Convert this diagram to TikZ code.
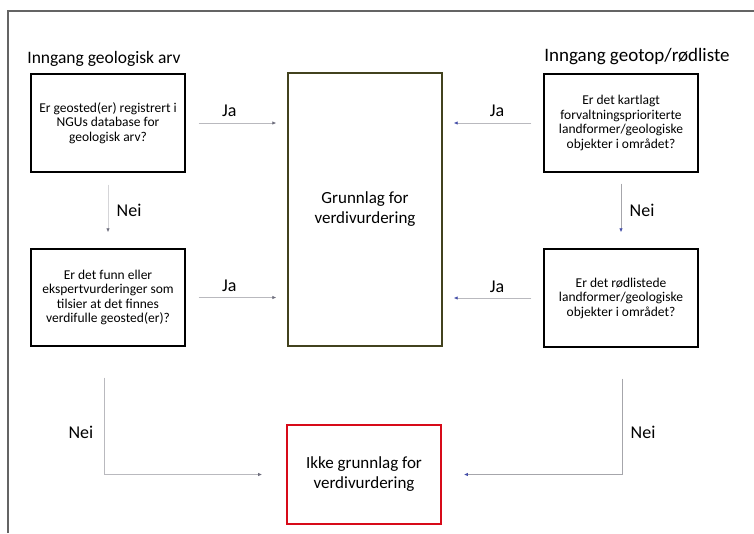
\documentclass[tikz,border=0pt]{standalone}
\usepackage{fontspec}
\setmainfont{Carlito}
\usetikzlibrary{shapes,arrows.meta,positioning}
\definecolor{framegray}{RGB}{100,100,100}
\definecolor{olivebox}{RGB}{66,66,30}
\definecolor{redbox}{RGB}{215,10,25}
\definecolor{linegray}{RGB}{185,185,190}
\definecolor{tipgray}{RGB}{110,110,125}
\definecolor{tipblue}{RGB}{70,80,170}
\tikzset{block/.style={draw,
                       rectangle,
                       line width=1.4pt,
                       minimum height=98pt,
                       minimum width=154pt,
                       align=center,
                       font=\fontsize{13.5}{14.5}\selectfont},
         bigblock/.style={block,
                       font=\fontsize{17}{20}\selectfont},
         title/.style={font=\fontsize{17.5}{20}\selectfont},
         answer/.style={font=\fontsize{18}{20}\selectfont},
         flow/.style={draw=linegray, line width=0.8pt, -{Latex[length=4pt,width=3.5pt,color=tipgray]}},
         flowback/.style={draw=linegray, line width=0.8pt, -{Latex[length=4pt,width=3.5pt,color=tipblue]}}}

\begin{document}
\begin{tikzpicture}[x=1pt,y=-1pt]
    \useasboundingbox (0,0) rectangle (754,533);
    % frame round the figure
    \draw[framegray, line width=1.2pt] (8,533) -- (8,11) -- (754,11);
    % We start by placing the blocks
    \node [title] (leftentry) at (104,59) {Inngang geologisk arv};
    \node [title, font=\fontsize{19}{20}\selectfont] (rightentry) at (637,57) {Inngang geotop/rødliste};
    \node [block] (registered) at (108,123) {Er geosted(er) registrert i\\NGUs database for\\geologisk arv?};
    \node [block] (mapped) at (621,123) {Er det kartlagt\\forvaltningsprioriterte\\landformer/geologiske\\objekter i området?};
    \node [block, minimum height=97pt] (expert) at (108,297.5) {Er det funn eller\\ekspertvurderinger som\\tilsier at det finnes\\verdifulle geosted(er)?};
    \node [block] (redlisted) at (621,298) {Er det rødlistede\\landformer/geologiske\\objekter i området?};
    \node [bigblock, draw=olivebox, minimum height=273pt] (basis) at (365,209.5) {Grunnlag for\\verdivurdering};
    \node [bigblock, draw=redbox, line width=1.8pt, minimum height=99pt] (nobasis) at (364,474.5) {Ikke grunnlag for\\verdivurdering};
    % Ja arrows into the basis block
    \draw [flow, shorten <=13pt, shorten >=11pt] (registered.east) -- node[answer, pos=0.43, above=3pt] {Ja} (registered.east -| basis.west);
    \draw [flowback, shorten <=12pt, shorten >=11pt] (mapped.west) -- node[answer, pos=0.46, above=3pt] {Ja} (mapped.west -| basis.east);
    \draw [flow, shorten <=13pt, shorten >=11pt] (expert.east) -- node[answer, pos=0.43, above=2pt] {Ja} (expert.east -| basis.west);
    \draw [flowback, shorten <=12pt, shorten >=11pt] (redlisted.west) -- node[answer, pos=0.46, above=2pt] {Ja} (redlisted.west -| basis.east);
    % Nei arrows down the columns
    \draw [flow, draw=linegray!60, shorten <=12pt, shorten >=16pt] (registered.south) -- node[answer, midway, right=5pt] {Nei} (expert.north);
    \draw [flowback, draw=linegray!90!black, shorten <=11pt, shorten >=16pt] (mapped.south) -- node[answer, midway, right=5pt] {Nei} (redlisted.north);
    \draw [flow, shorten >=24pt] ([xshift=-4pt, yshift=-31pt]expert.south) |- node[answer, pos=0.28, left=7pt] {Nei} (nobasis.west);
    \draw [flowback, draw=linegray!90!black, shorten >=22pt] ([xshift=1pt, yshift=-31pt]redlisted.south) |- node[answer, pos=0.28, right=5pt] {Nei} (nobasis.east);
\end{tikzpicture}
\end{document}
